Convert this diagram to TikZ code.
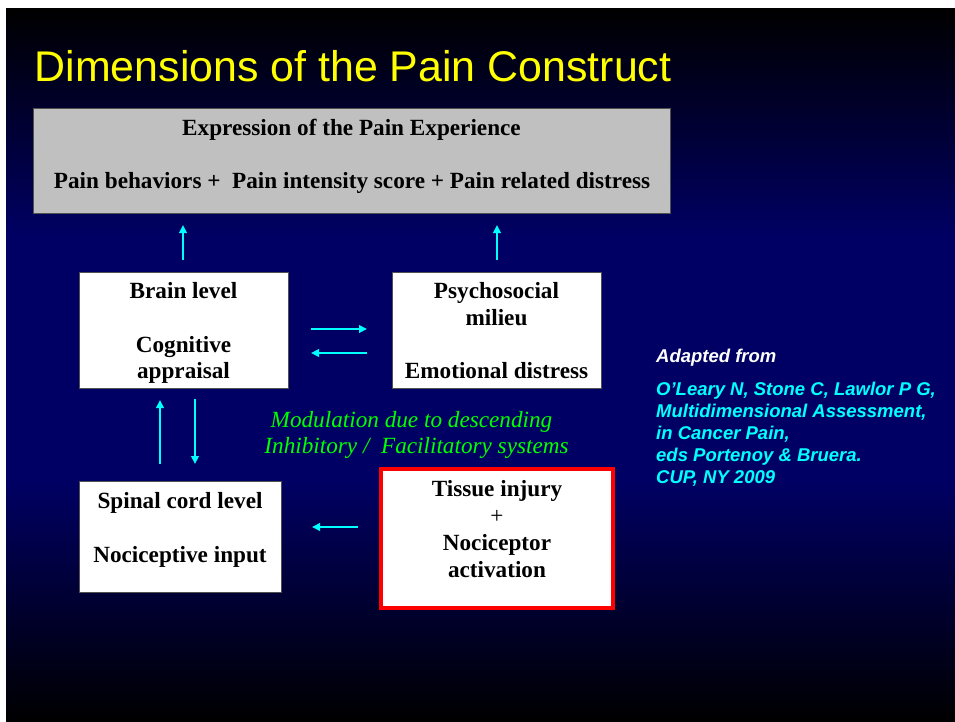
\documentclass[tikz,border=0pt]{standalone}
\usepackage{fontspec}
\setmainfont{Liberation Serif}
\newfontfamily\arialfont{Liberation Sans}
\usetikzlibrary{arrows.meta}
\definecolor{navybg}{RGB}{0,0,100}
\definecolor{boxgray}{RGB}{192,192,192}
\definecolor{edgegray}{RGB}{80,80,80}
\definecolor{slidecyan}{RGB}{0,255,255}
\definecolor{slidegreen}{RGB}{0,255,0}
\definecolor{titleyellow}{RGB}{255,255,0}
\definecolor{boxred}{RGB}{255,0,0}
\pgfdeclareverticalshading{slidebg}{100bp}{color(0bp)=(black); color(25bp)=(black); color(42bp)=(navybg); color(59bp)=(navybg); color(75bp)=(black); color(100bp)=(black)}
\begin{document}
\begin{tikzpicture}[x=1pt,y=-1pt,
  whitebox/.style={draw=edgegray, line width=1pt, fill=white, inner sep=0pt},
  graybox/.style={draw=edgegray, line width=1pt, fill=boxgray, inner sep=0pt},
  redbox/.style={draw=boxred, line width=4pt, fill=white, inner sep=0pt},
  boxtxt/.style={font=\fontsize{23.2}{27}\selectfont\bfseries, anchor=base, inner sep=0pt, text=black},
  greentxt/.style={font=\fontsize{23.2}{26}\selectfont\itshape, anchor=base, inner sep=0pt, text=slidegreen},
  reftxt/.style={font=\arialfont\fontsize{18.5}{22}\selectfont\bfseries\itshape, anchor=base west, inner sep=0pt, text=slidecyan},
  arr/.style={draw=slidecyan, line width=2.5pt, -{Triangle[length=8pt,width=7.5pt]}}]
\useasboundingbox (0,0) rectangle (955,722);
\fill[white] (0,0) rectangle (955,722);
\shade[shading=slidebg] (6,9) rectangle (955,722);

% title
\node[anchor=base west, inner sep=0pt, text=titleyellow, font=\arialfont\fontsize{42.9}{48}\selectfont] (title) at (34.5,82) {Dimensions of the Pain Construct};

% top grey box
\node[graybox, minimum width=637pt, minimum height=104pt] (expr) at (351.5,161) {};
\node[boxtxt] (expr1) at (351.5,136) {Expression of the Pain Experience};
\node[boxtxt] (expr2) at (352,189) {Pain behaviors +~\ Pain intensity score + Pain related distress};

% brain level
\node[whitebox, minimum width=209pt, minimum height=116pt] (brain) at (183.5,330) {};
\node[boxtxt] (brain1) at (183.5,298) {Brain level};
\node[boxtxt] (brain2) at (183.5,352) {Cognitive};
\node[boxtxt] (brain3) at (183.5,378) {appraisal};

% psychosocial
\node[whitebox, minimum width=209pt, minimum height=116pt] (psych) at (496.5,330) {};
\node[boxtxt] (psych1) at (496.5,298) {Psychosocial};
\node[boxtxt] (psych2) at (496.5,325) {milieu};
\node[boxtxt] (psych3) at (496.5,378) {Emotional distress};

% spinal cord
\node[whitebox, minimum width=202pt, minimum height=111pt] (spinal) at (180,536.5) {};
\node[boxtxt] (spinal1) at (180,508) {Spinal cord level};
\node[boxtxt] (spinal2) at (180,562) {Nociceptive input};

% tissue injury
\node[redbox, minimum width=232pt, minimum height=139pt] (tissue) at (497,538.5) {};
\node[boxtxt] (tissue1) at (497,496) {Tissue injury};
\node[boxtxt, font=\fontsize{23.2}{27}\selectfont] (tissue2) at (497,523) {+};
\node[boxtxt] (tissue3) at (497,550) {Nociceptor};
\node[boxtxt] (tissue4) at (497,577) {activation};

% modulation text
\node[greentxt] (mod1) at (411.5,427) {Modulation due to descending};
\node[greentxt] (mod2) at (416.5,453) {Inhibitory /~\ Facilitatory systems};

% reference
\node[reftxt, text=white] (ref0) at (656,362) {Adapted from};
\node[reftxt] (ref1) at (656,395) {O’Leary N, Stone C, Lawlor P G,};
\node[reftxt] (ref2) at (656,417) {Multidimensional Assessment,};
\node[reftxt] (ref3) at (656,439) {in Cancer Pain,};
\node[reftxt] (ref4) at (656,461) {eds Portenoy \& Bruera.};
\node[reftxt] (ref5) at (656,483) {CUP, NY 2009};

% arrow end points
\coordinate (u1s) at (183,260); \coordinate (u1e) at (183,225);
\coordinate (u2s) at (497,260); \coordinate (u2e) at (497,225);
\coordinate (rs) at (311,329);  \coordinate (re) at (367,329);
\coordinate (ls) at (367,353);  \coordinate (le) at (311,353);
\coordinate (bus) at (160,464); \coordinate (bue) at (160,400);
\coordinate (bds) at (195,399); \coordinate (bde) at (195,464);
\coordinate (ts) at (358,527);  \coordinate (te) at (312,527);

\draw[arr] (u1s) -- (u1e);
\draw[arr] (u2s) -- (u2e);
\draw[arr] (rs) -- (re);
\draw[arr] (ls) -- (le);
\draw[arr] (bus) -- (bue);
\draw[arr] (bds) -- (bde);
\draw[arr] (ts) -- (te);
\end{tikzpicture}
\end{document}
